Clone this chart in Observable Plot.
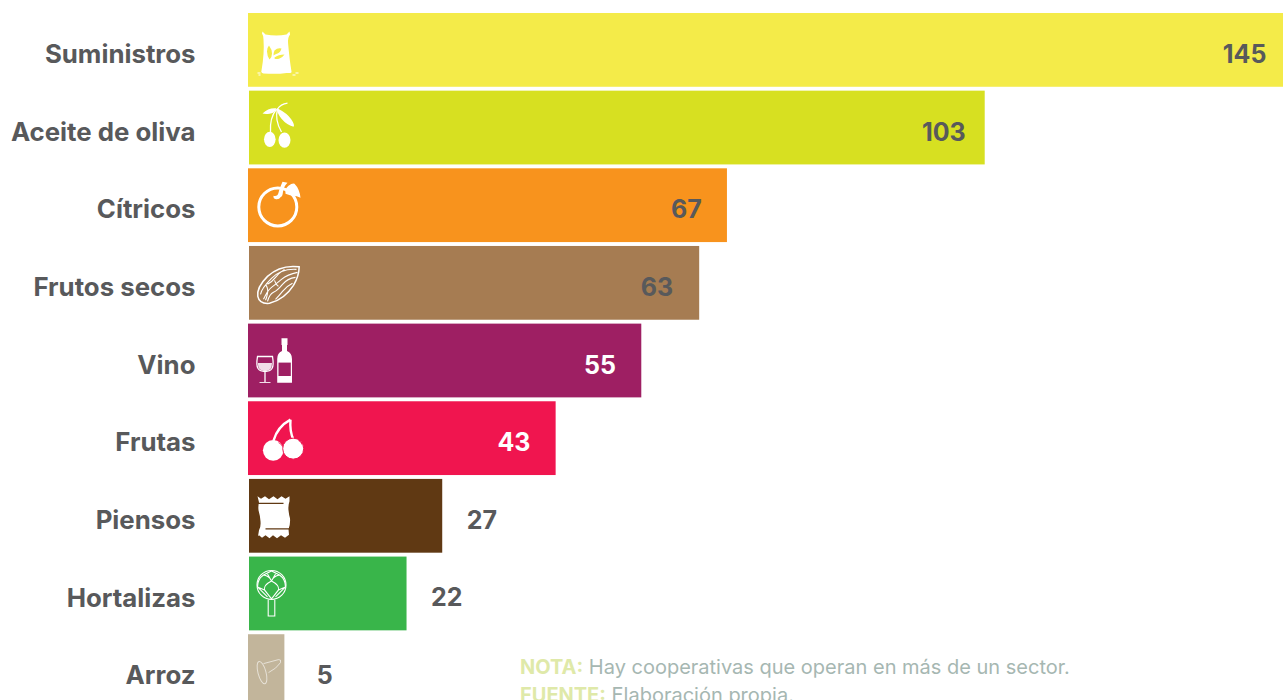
<!DOCTYPE html>
<html lang="es">
<head>
<meta charset="utf-8">
<script src="https://cdn.jsdelivr.net/npm/d3@7"></script>
<script src="https://cdn.jsdelivr.net/npm/@observablehq/plot@0.6"></script>
<style>
html,body{margin:0;padding:0;background:#fff;overflow:hidden;height:700px;}
#wrap{position:relative;width:1283px;height:700px;overflow:hidden;}
#chart svg{display:block;}
#caption{position:absolute;left:520px;top:653px;font:400 20px/28px Inter,sans-serif;color:#a6b7b2;white-space:nowrap;}
#caption b{color:#dfe9a9;font-weight:700;}
</style>
</head>
<body>
<div id="wrap"><div id="chart"></div>
<div id="caption"><div><b>NOTA:</b> Hay cooperativas que operan en más de un sector.</div><div><b>FUENTE:</b> Elaboración propia.</div></div>
</div>
<script>
const categories = ["Suministros","Aceite de oliva","Cítricos","Frutos secos","Vino","Frutas","Piensos","Hortalizas","Arroz"];
const values = [145,103,67,63,55,43,27,22,5];
const colors = ["#f4eb49","#d7e021","#f8931d","#a67c52","#9e1f63","#f0154f","#603913","#39b54a","#c2b59b"];
const labelColors = ["#58595b","#58595b","#58595b","#58595b","#ffffff","#ffffff","#58595b","#58595b","#58595b"];

const iconSack = c => `<path fill="#fff" d="M14 18l3 3q11 2 21 0l3-3 .6 3q-2.600 3-2 9q1.400 16 3.400 28q.6 2-5 1.500q-10 1.500-23 .5q-3-1-2-3q3-17 2-31q0-4-1.500-6z"/><path fill="#fff" d="M9 59h3v1H9zM47 59h3v1h-3zM44 61h3v1.200h-3zM10 61h2v1h-2z"/><path fill="${c}" d="M20.500 32q3 4 3 8t-2.500 6q-2.500-4-2.500-8t2-6zM26 37q3-3 7-2q-1 4-4 5t-4 2q0-3 1-5zM26 44q4-3 10-3q-2 3-5 4t-5 0z"/>`;
const iconOlive = c => `<g fill="#fff"><ellipse cx="21.300" cy="48.300" rx="5.800" ry="7.600"/><ellipse cx="36" cy="49" rx="6" ry="7.600"/><path d="M14 22.500q6-6 14-5.200q-2 5-7 5.500t-7-.3zM28.700 17.300q10 5 14 11t2.300 7.400q-7-2-12-8t-4.300-10.400z"/></g><path fill="none" stroke="#fff" stroke-width="1.300" d="M22 41q-1-14 6-23M33 41q-7-12-4-23q3-5 10-6"/>`;
const iconOrange = c => `<circle cx="29.300" cy="38.300" r="19" fill="none" stroke="#fff" stroke-width="3"/><path fill="#fff" d="M25 27q4 1 5-3t4-11l5 1q-4 4-4.500 9t-2 5q-2 3-5 2.500t-2.500-3.500zM37 25q-1-5 3-8t6-2q5 5 6 14q-4-2-7-2t-8-2z"/>`;
const iconAlmond = c => `<g fill="none" stroke="#fff" stroke-width="1.100"><path stroke-width="1.500" d="M50.700 20.500Q32 18 19 30Q8 41 9.300 50Q11 58 21 57Q36 53 45 39Q50.500 30 50.700 20.500z"/><path d="M48 23q-15-1-25 9t-11 16M49 26q-10 2-16 7t-10 8-8 12M47 31q-8 1-13 7t-9 8-6 9M44 37q-6 3-10 8t-7 8M36 23q-6 4-9 8t-8 7M26 34q2 5 4 6M17 38q3 4 2 9t-2 7"/></g>`;
const iconWine = c => `<path fill="none" stroke="#fff" stroke-width="1.300" d="M9 32.500h15q1.500 9-.5 12q-2 3-7 3t-7-3q-2-3-.5-12zM16.500 47.500v10.500"/><path fill="#fff" d="M11 58h11v1H11zM9.300 39h14.200q0 4-1.500 6t-5.500 2.300q-4-.300-5.500-2.300t-1.700-6z" fill-opacity=".85"/><path fill="#fff" d="M33 14.300h6v6.700h-.5v6q5 2 5 8V58.700H28.700V35q0-6 4.800-8v-6H33z"/><rect x="30" y="38.600" width="12.300" height="13.400" fill="${c}"/>`;
const iconCherry = c => `<g fill="none" stroke="#fff" stroke-width="2.400"><path d="M25 39q4-14 17-21M45 38q-4-8-3-20"/></g><circle cx="24.700" cy="48.700" r="10.300" fill="#fff"/><circle cx="44.700" cy="47" r="10.500" fill="#fff" stroke="${c}" stroke-width="1"/><path fill="none" stroke="${c}" stroke-width=".8" d="M30 41q3 1 4 4M50 39q3 1 3.500 4"/>`;
const iconBag = c => `<path fill="#fff" d="M9 17l3.500 2.500 4-2.500 4 3 4.500-3 4 3 4-3 4 2.500 4-2.500v5q-1.500 4-1 9t1.500 8q.5 6-1.500 11l.5 5.500-4 3-4-2.500-4 3-4-3-3.500 3-4-3-3.500 2.500-3-2.500-1 1 1-6q2-3 1.500-9t-2-11q-.5-5 .5-8z"/><path stroke="${c}" stroke-width="1.200" d="M9 24h26M17 49.500h25"/>`;
const iconChoke = c => `<g fill="none" stroke="#fff" stroke-width="1.100"><circle cx="23" cy="28" r="14.500"/><path d="M19.700 43v16h6.600v-16M23 42l-7-9q-1-5 7-9q8 4 7 9zM16 33l-7-3q0-8 6-12q6 1 8 6M30 33l7-3q0-8-6-12q-6 1-8 6M15 18l8-4 8 4M23 24l-4-7M23 24l4-7M9 30l10 10M37 30l-10 10"/></g>`;
const iconRice = c => `<g fill="none" stroke="#fff" stroke-opacity=".6" stroke-width="1"><ellipse cx="13.500" cy="38" rx="4" ry="11.500" transform="rotate(-15 13.500 38)"/><path d="M15 29L30 25Q33 24.500 32 28Q28 34 20 38"/></g>`;
const iconMakers = [iconSack,iconOlive,iconOrange,iconAlmond,iconWine,iconCherry,iconBag,iconChoke,iconRice];
const iconUri = (fn,c) => "data:image/svg+xml," + encodeURIComponent(`<svg xmlns="http://www.w3.org/2000/svg" width="74" height="74" viewBox="0 0 74 74">${fn(c)}</svg>`);

const rows = categories.map((name,i) => ({name, value: values[i], color: colors[i], labelColor: labelColors[i], icon: iconUri(iconMakers[i], colors[i])}));
const font = "Inter, sans-serif";
const textOpts = {y:"name", text:d=>String(d.value), fill:"labelColor", fontSize:25, fontWeight:700, fontFamily:font, dy:4.500};
const vals = d => d.value;
const offsetRow = d => ["Aceite de oliva","Frutos secos","Piensos","Hortalizas"].includes(d.name);

const chart = Plot.plot({
  width:1283, height:708, marginLeft:248, marginRight:0, marginTop:13, marginBottom:0,
  x:{domain:[0,145], axis:null},
  y:{domain:categories, paddingInner:0.05, paddingOuter:0, align:0, round:false, label:null},
  style:{background:"transparent", overflow:"visible"},
  marks:[
    Plot.barX(rows.filter(d=>!offsetRow(d)),{x:vals, y:"name", fill:"color", insetRight:-0.7}),
    Plot.barX(rows.filter(offsetRow),{x:vals, y:"name", fill:"color", dx:1, insetRight:-0.5}),
    Plot.image(rows,{x:()=>0, y:"name", src:"icon", width:74, height:74, dx:37}),
    Plot.axisY({tickSize:0, tickPadding:53, fontSize:25.8, fontWeight:700, fontFamily:font, color:"#58595b", label:null, dy:4.500, tickFormat:d=>d}),
    Plot.text(rows.filter(d=>d.value===145),{...textOpts, x:vals, textAnchor:"end", dx:-17}),
    Plot.text(rows.filter(d=>d.value===103),{...textOpts, x:vals, textAnchor:"end", dx:-18}),
    Plot.text(rows.filter(d=>d.value<103 && d.value>27),{...textOpts, x:vals, textAnchor:"end", dx:-25}),
    Plot.text(rows.filter(d=>d.value<=27 && d.value>5),{...textOpts, x:vals, textAnchor:"start", dx:25.500}),
    Plot.text(rows.filter(d=>d.value===5),{...textOpts, x:vals, textAnchor:"start", dx:32.500})
  ]
});
document.getElementById("chart").appendChild(chart);
</script>
</body>
</html>
